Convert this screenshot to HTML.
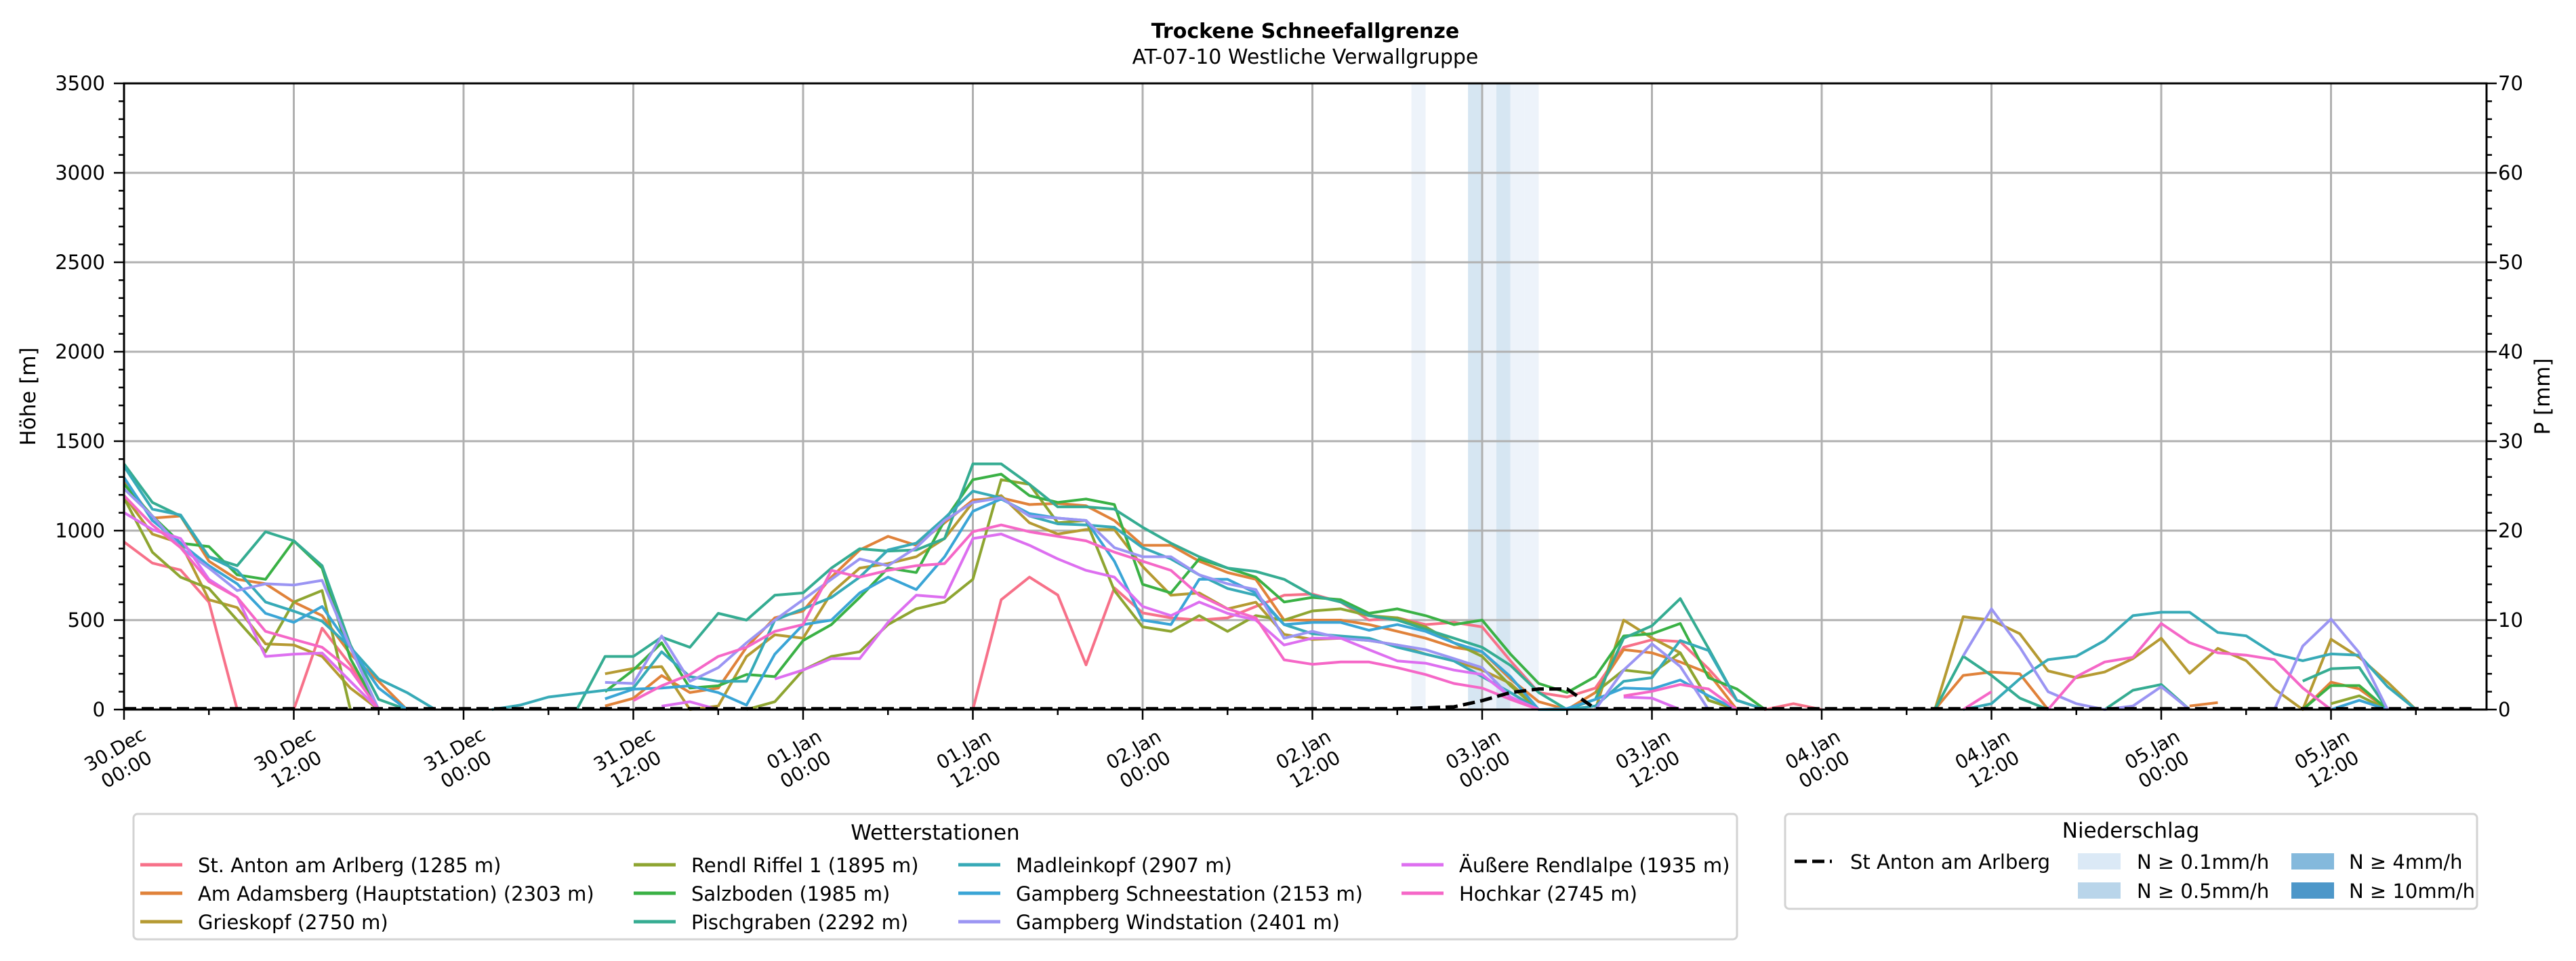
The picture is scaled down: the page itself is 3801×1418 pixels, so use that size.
<!DOCTYPE html>
<html><head><meta charset="utf-8"><style>
html,body{margin:0;padding:0;background:#fff}
svg{display:block;font-family:"DejaVu Sans","Liberation Sans",sans-serif}
</style></head><body>
<svg id="chart" width="3801" height="1418" viewBox="0 0 3801 1418" xmlns="http://www.w3.org/2000/svg">
<rect x="0" y="0" width="3801" height="1418" fill="#fff"/>
<g id="bands"></g><g id="grid"></g><g id="series"></g><g id="axes"></g>
<text x="1926" y="56" text-anchor="middle" font-size="30" font-weight="bold">Trockene Schneefallgrenze</text>
<text x="1926" y="94" text-anchor="middle" font-size="30">AT-07-10 Westliche Verwallgruppe</text>
<text transform="translate(52,585) rotate(-90)" text-anchor="middle" font-size="31">Höhe [m]</text>
<text transform="translate(3762,585) rotate(-90)" text-anchor="middle" font-size="31">P [mm]</text>
<g>
<rect x="197" y="1201" width="2366" height="185" rx="6" fill="#fff" stroke="#d3d3d3" stroke-width="3"/>
<text x="1380" y="1239" text-anchor="middle" font-size="31">Wetterstationen</text>
<g id="leg1"></g></g>
<g>
<rect x="2634" y="1201" width="1021" height="140" rx="6" fill="#fff" stroke="#d3d3d3" stroke-width="3"/>
<text x="3144" y="1236" text-anchor="middle" font-size="31">Niederschlag</text>
<line x1="2648" y1="1271" x2="2703" y2="1271" stroke="#000" stroke-width="5" stroke-dasharray="18,8"/>
<text x="2730" y="1282" font-size="29">St Anton am Arlberg</text>
<rect x="3066" y="1259" width="63" height="24" fill="#dbe9f6"/>
<text x="3153" y="1282" font-size="29">N ≥ 0.1mm/h</text>
<rect x="3066" y="1302" width="63" height="24" fill="#b9d5ea"/>
<text x="3153" y="1325" font-size="29">N ≥ 0.5mm/h</text>
<rect x="3381" y="1259" width="63" height="24" fill="#84b9dc"/>
<text x="3466" y="1282" font-size="29">N ≥ 4mm/h</text>
<rect x="3381" y="1302" width="63" height="24" fill="#4d97c9"/>
<text x="3466" y="1325" font-size="29">N ≥ 10mm/h</text>
</g>
</svg>
<script>
const N=null;
const hours=[];for(let h=0;h<=166;h+=2)hours.push(h);
const stationNames=["St. Anton am Arlberg (1285 m)","Am Adamsberg (Hauptstation) (2303 m)","Grieskopf (2750 m)","Rendl Riffel 1 (1895 m)","Salzboden (1985 m)","Pischgraben (2292 m)","Madleinkopf (2907 m)","Gampberg Schneestation (2153 m)","Gampberg Windstation (2401 m)","Äußere Rendlalpe (1935 m)","Hochkar (2745 m)"];
const stationColors=["#f77189","#e0823a","#b59a32","#8ea531","#3ab145","#35ac92","#37aab7","#3aa5d6","#9b95f3","#dd6ff0","#f567c7"];
const sAnton=[937,819,780,600,0,N,0,455,250,0, N,N,N,N,N,N,N,N,N,N,N,N,N,N,N,N,N,N,N,N, 0,614,740,640,250,680,540,513,500,513,576,639,646,601,500,513,475,487,462,272,95,70,120,348,390,380,228,52,0,33,0, N,N,N,N,N,N,N,N,N,N,N,N,N,N,N,N,N,N,N,N,N,N,N];
const sAdams=[1285,1070,1082,829,728,703,601,525,310,158,0, N,N,N,N,N,N, 20,63,190,95,120,348,513,551,740,892,968,918,1044,1171,1183,1146,1152,1139,1057,918,918,829,766,728,500,500,500,475,437,399,348,323,171,44,0,95,335,317,266,203,0, N,N,N,N,N,N,0, 191,210,200,0, N,N,N,N, 20,39, N,N, 0,153,115,0, N,N,N];
const sGries=[1196,981,930,614,570,367,361,297,120,0, N,N,N,N,N,N,N, 200,230,240,0,20,297,418,399,652,791,816,854,956,1158,1196,1044,981,1006,1006,800,639,652,563,600,420,392,399,386,361,310,272,221,146,0, N, 0,500,400,317,52,0, N,N,N,N,N,N, 0,519,500,424,216,178,210,285,399,203,342,273,115,0,393,292,153,0, N,N];
const sRendl=[1183,880,740,677,500,323,601,665,0, N,N,N,N,N,N,N,N,N,N,N,N,N, 0,44,221,297,323,475,563,601,728,1285,1259,1044,1057,665,462,437,525,437,525,500,551,563,525,513,462,373,297,133,0, N, 95,221,203,317,52,0, N,N,N,N,N,N,N,N,N,N,N,N,N,N,N,N,N,N,N,N, 33,77,0, N,N,N];
const sSalz=[1260,1082,930,911,753,728,943,791,285,0, N,N,N,N,N,N,N, 100,221,373,120,133,196,184,386,475,627,791,766,1057,1285,1316,1196,1158,1177,1146,700,652,842,791,740,601,627,614,538,563,525,475,500,310,146,95,184,411,424,481,178,115,0, N,N,N,N,N,N,N,N,N,N,N,N,N,N,N,N,N,N, 0,134,134,0, N,N,N];
const sPisch=[1373,1158,1082,854,804,994,943,804,361,57,0, N,N,N,N,N, 0,297,297,405,348,538,500,639,652,791,899,886,892,956,1373,1373,1259,1133,1133,1120,1019,930,854,791,772,728,639,601,525,500,449,399,348,247,95,0,57,399,468,620,342,52,0, N,N,N,N,N, 0,298,191,64,0, N, 0,108,140,0, N,N,N, 159,228,235,0, N,N,N];
const sMadl=[1360,1120,1088,854,778,601,550,494,348,171,95,0, N, 0,25,70,89,108,120,323,184,158,158,500,563,627,740,892,930,1070,1221,1183,1082,1038,1032,1019,905,842,753,677,639,475,424,411,399,348,310,272,184,95,0,0,20,158,178,386,330,52,0, N,N,N,N,N,N, 0,33,172,279,298,386,525,544,544,431,412,311,273,311,304,128,0, N,N];
const sGSchnee=[1297,1057,930,804,703,538,487,576,348,120,0, N,N,N,N,N,N, 60,114,120,133,95,25,310,475,500,652,740,671,854,1108,1177,1095,1070,1057,829,500,475,728,728,652,475,487,487,443,475,437,373,323,184,0,6,57,120,115,165,77,0, N,N,N,N,N,N,N,N,N,N,N,N,N,N,N,N,N,N,N,N, 0,52,0, N,N,N];
const sGWind=[1234,1082,905,791,665,703,696,722,348,0, N,N,N,N,N,N,N, 152,146,411,158,234,373,500,614,728,842,804,905,1057,1158,1183,1082,1070,1057,905,854,854,753,703,671,399,437,399,386,361,335,285,234,70,0, N, 0,221,367,241,0, N,N,N,N,N,N,N,N, 300,563,348,100,33,0,20,128,0, N,N, 0,355,506,317,0, N,N,N];
const sAeuss=[1101,1006,956,728,627,297,310,316,158,0, N,N,N,N,N,N,N,N,N, 19,44,0, N, 171,221,285,285,487,639,627,956,981,918,842,778,740,576,525,601,538,500,361,399,399,335,272,259,221,196,70,0, N,N, 70,64,0, N,N,N,N,N,N,N,N,N,N,N,N,N,N,N,N,N,N,N,N,N,N,N,N,N,N,N,N];
const sHoch=[1196,1032,905,715,627,437,392,348,222,0, N,N,N,N,N,N,N,N, 50,133,196,297,348,437,475,778,740,778,804,816,994,1032,994,968,943,880,829,778,639,563,513,278,253,266,266,234,196,146,120,57,0, N,N, 76,102,140,115,0, N,N,N,N,N,N,N, 0,100, N, 0,184,266,292,481,374,317,304,279,121,0, N,N,N,N,N];
const precipStAnton=[0.1,0.1,0.1,0.1,0.1,0.1,0.1,0.1,0.1,0.1,0.1,0.1,0.1,0.1,0.1,0.1,0.1,0.1,0.1,0.1,0.1,0.1,0.1,0.1,0.1,0.1,0.1,0.1,0.1,0.1,0.1,0.1,0.1,0.1,0.1,0.1,0.1,0.1,0.1,0.1,0.1,0.1,0.1,0.1,0.1,0.1,0.2,0.3,1.0,1.9,2.3,2.3,0.1,0.1,0.1,0.1,0.1,0.1,0.1,0.1,0.1,0.1,0.1,0.1,0.1,0.1,0.1,0.1,0.1,0.1,0.1,0.1,0.1,0.1,0.1,0.1,0.1,0.1,0.1,0.1,0.1,0.1,0.1,0.1];
const precipBandHours=[91,95,96,97,98,99];
const precipBandLevels=[1,2,1,2,1,1];
const yTicks=[0,500,1000,1500,2000,2500,3000,3500];
const y2Ticks=[0,10,20,30,40,50,60,70];
const xTickHours=[0,12,24,36,48,60,72,84,96,108,120,132,144,156];
const xTickLabels=[["30.Dec","00:00"],["30.Dec","12:00"],["31.Dec","00:00"],["31.Dec","12:00"],["01.Jan","00:00"],["01.Jan","12:00"],["02.Jan","00:00"],["02.Jan","12:00"],["03.Jan","00:00"],["03.Jan","12:00"],["04.Jan","00:00"],["04.Jan","12:00"],["05.Jan","00:00"],["05.Jan","12:00"]];
const allSeries=[sAnton,sAdams,sGries,sRendl,sSalz,sPisch,sMadl,sGSchnee,sGWind,sAeuss,sHoch];

const L=183,R=3669,T=123,B=1047;
const xs=h=>L+h*20.875;
const ys=m=>B-m*(B-T)/3500;
const ys2=p=>B-p*(B-T)/70;
const NS="http://www.w3.org/2000/svg";
function mk(tag,attrs,parent){const e=document.createElementNS(NS,tag);for(const k in attrs)e.setAttribute(k,attrs[k]);parent.appendChild(e);return e;}
const gB=document.getElementById('bands'),gG=document.getElementById('grid'),gS=document.getElementById('series'),gA=document.getElementById('axes'),gL=document.getElementById('leg1');
const bandColors={1:"#edf3fa",2:"#d6e6f2",3:"#84b9dc",4:"#4d97c9"};
precipBandHours.forEach((h,i)=>{
 const r=mk('rect',{x:xs(h),y:T,width:20.875,height:B-T,fill:bandColors[precipBandLevels[i]]},gB);
 
 
});
yTicks.forEach(v=>{
 const l=mk('line',{x1:L,x2:R,y1:ys(v),y2:ys(v),stroke:"#b0b0b0","stroke-width":3},gG);
 
 
});
xTickHours.forEach(h=>{
 const l=mk('line',{x1:xs(h),x2:xs(h),y1:T,y2:B,stroke:"#b0b0b0","stroke-width":3},gG);
 
 
});
allSeries.forEach((s,si)=>{
 let d="",pen=false;
 s.forEach((v,i)=>{if(v===null){pen=false;return;}d+=(pen?"L":"M")+xs(hours[i]).toFixed(1)+","+ys(v).toFixed(1);pen=true;});
 const p=mk('path',{d:d,fill:"none",stroke:stationColors[si],"stroke-width":4,"stroke-linejoin":"round"},gS);
 
 
});
{let d="";precipStAnton.forEach((v,i)=>{d+=(i?"L":"M")+xs(hours[i]).toFixed(1)+","+ys2(v).toFixed(1);});
 const p=mk('path',{d:d,fill:"none",stroke:"#000","stroke-width":5,"stroke-dasharray":"18,8"},gS);
 
 }
mk('rect',{x:L,y:T,width:R-L,height:B-T,fill:"none",stroke:"#000","stroke-width":3},gA);
for(let v=0;v<=3500;v+=100){const y=ys(v),maj=v%500===0;mk('line',{x1:L-(maj?15:8),x2:L,y1:y,y2:y,stroke:"#000","stroke-width":2.5},gA);}
for(let v=0;v<=70;v+=2){const y=ys2(v),maj=v%10===0;mk('line',{x1:R,x2:R+(maj?15:8),y1:y,y2:y,stroke:"#000","stroke-width":2.5},gA);}
for(let h=0;h<=166;h+=6){const x=xs(h),maj=h%12===0;mk('line',{x1:x,x2:x,y1:B,y2:B+(maj?15:8),stroke:"#000","stroke-width":2.5},gA);}
yTicks.forEach(v=>{const t=mk('text',{x:155,y:ys(v)+10,"text-anchor":"end","font-size":29},gA);t.textContent=v;
 
 });
y2Ticks.forEach(v=>{const t=mk('text',{x:3686,y:ys2(v)+10,"font-size":29},gA);t.textContent=v;
 
 });
xTickHours.forEach((h,i)=>{
 const g=mk('g',{transform:`translate(${xs(h)-4},1122) rotate(-30)`},gA);
 
 
 const a=mk('text',{x:0,y:-9,"text-anchor":"middle","font-size":28},g);a.textContent=xTickLabels[i][0];
 const b=mk('text',{x:0,y:25,"text-anchor":"middle","font-size":28},g);b.textContent=xTickLabels[i][1];
});
const colX=[207,935,1414,2068];
stationNames.forEach((n,i)=>{
 const c=Math.floor(i/3),r=i%3,y=[1276,1318,1360][r];
 const g=mk('g',{},gL);
 
 
 mk('line',{x1:colX[c],x2:colX[c]+62,y1:y,y2:y,stroke:stationColors[i],"stroke-width":5},g);
 const t=mk('text',{x:colX[c]+85,y:y+11,"font-size":29},g);t.textContent=n;
});
</script>
</body></html>
